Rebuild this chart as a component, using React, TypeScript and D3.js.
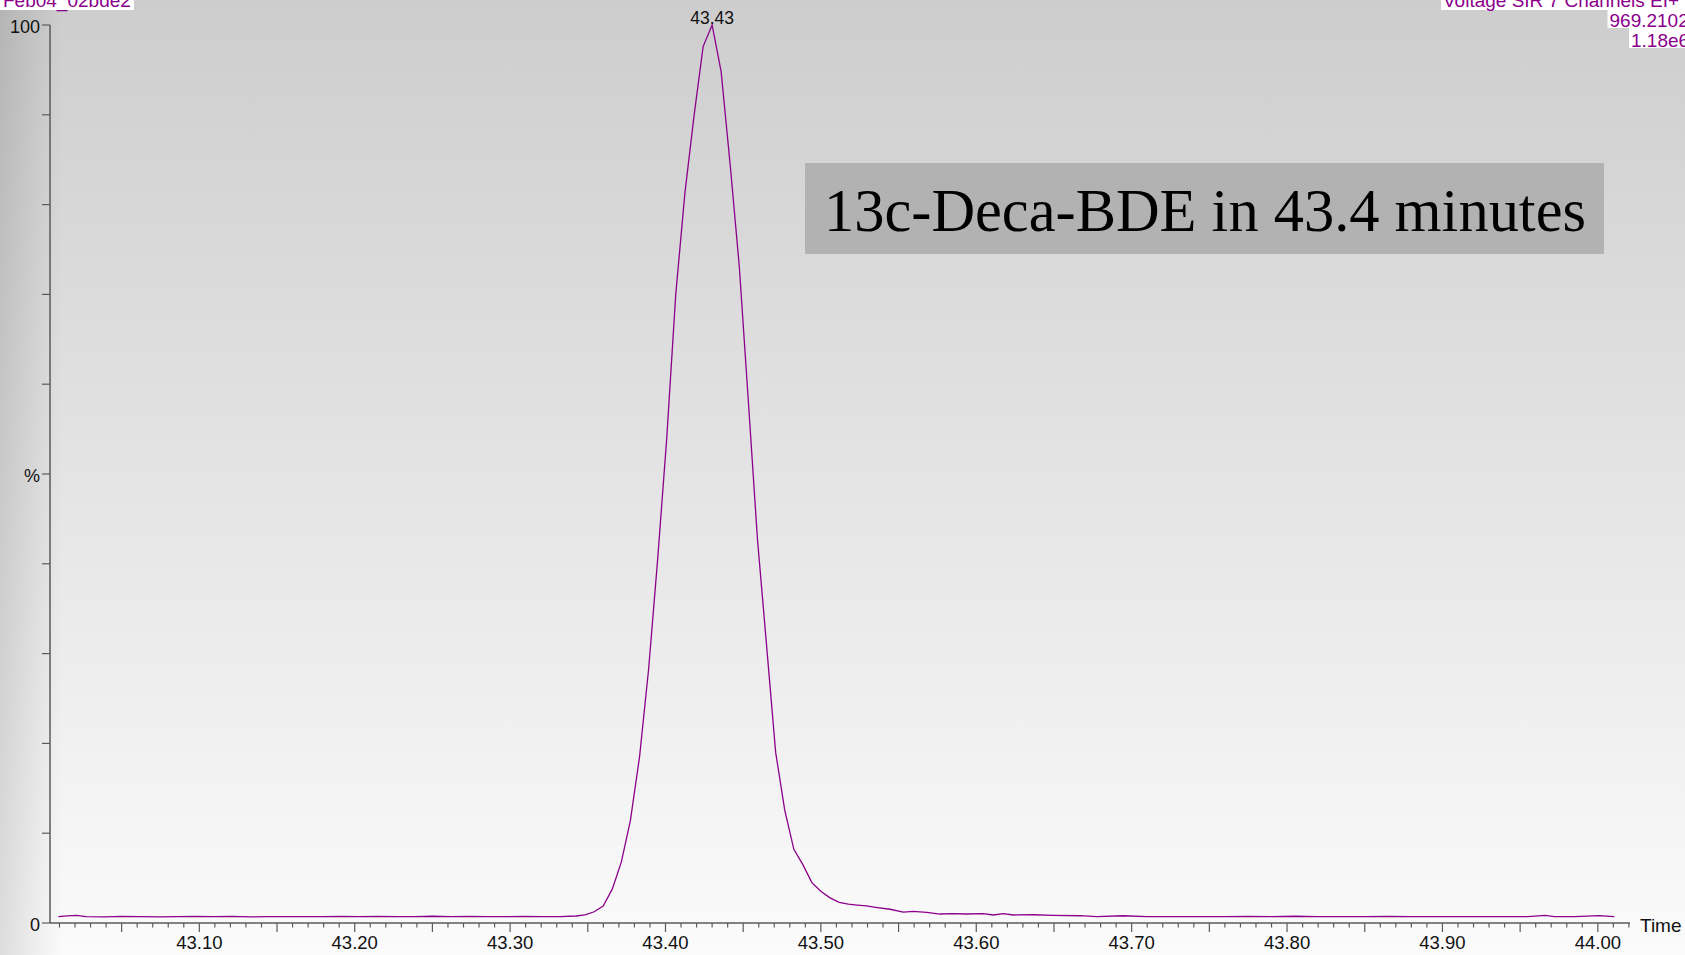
import React, { useEffect, useRef } from 'react';
import * as d3 from 'd3';

// retention time (min) and relative intensity (%)
const times = [
  43.0093, 43.0150, 43.0210, 43.0270, 43.0390, 43.0500, 43.0620, 43.0740, 43.0860, 43.0970,
  43.1090, 43.1210, 43.1330, 43.1440, 43.1560, 43.1680, 43.1800, 43.1910, 43.2030, 43.2150,
  43.2270, 43.2380, 43.2500, 43.2620, 43.2740, 43.2850, 43.2970, 43.3090, 43.3200, 43.3321,
  43.3424, 43.3482, 43.3541, 43.3599, 43.3658, 43.3716, 43.3774, 43.3833, 43.3891, 43.3950,
  43.4008, 43.4066, 43.4125, 43.4183, 43.4242, 43.4300, 43.4358, 43.4417, 43.4475, 43.4534,
  43.4592, 43.4650, 43.4709, 43.4767, 43.4826, 43.4884, 43.4942, 43.5001, 43.5059, 43.5118,
  43.5176, 43.5234, 43.5293, 43.5351, 43.5445, 43.5530, 43.5595, 43.5681, 43.5766, 43.5852,
  43.5938, 43.6045, 43.6109, 43.6174, 43.6238, 43.6367, 43.6495, 43.6667, 43.6775, 43.6946,
  43.7097, 43.7311, 43.7450, 43.7600, 43.7750, 43.7900, 43.8050, 43.8200, 43.8350, 43.8500,
  43.8650, 43.8800, 43.8950, 43.9100, 43.9250, 43.9400, 43.9550, 43.9660, 43.9720, 43.9850,
  44.0010, 44.0106,
];
const intensity = [
  0.72, 0.80, 0.85, 0.70, 0.68, 0.74, 0.70, 0.69, 0.72, 0.74,
  0.70, 0.73, 0.69, 0.70, 0.72, 0.70, 0.71, 0.73, 0.70, 0.74,
  0.70, 0.72, 0.75, 0.70, 0.73, 0.70, 0.71, 0.74, 0.72, 0.70,
  0.78, 0.90, 1.25, 1.9, 3.8, 6.8, 11.4, 18.5, 28.2, 40.6,
  54.0, 70.0, 81.3, 89.8, 97.6, 100, 94.8, 84.3, 73.1, 57.9,
  42.7, 31.0, 19.0, 12.6, 8.2, 6.5, 4.5, 3.5, 2.8, 2.3,
  2.1, 2.0, 1.9, 1.75, 1.53, 1.22, 1.30, 1.19, 1.0, 1.04,
  1.0, 1.04, 0.89, 1.04, 0.89, 0.92, 0.86, 0.81, 0.70, 0.81,
  0.70, 0.70, 0.72, 0.70, 0.74, 0.71, 0.75, 0.70, 0.72, 0.70,
  0.73, 0.70, 0.72, 0.70, 0.71, 0.72, 0.70, 0.85, 0.70, 0.72,
  0.82, 0.70,
];

const xLabels = ['43.10', '43.20', '43.30', '43.40', '43.50', '43.60', '43.70', '43.80', '43.90', '44.00'];
const yLabels = [{ v: 0, t: '0' }, { v: 50, t: '%' }, { v: 100, t: '100' }];
const peakLabel = '43.43';
const title = 'Feb04_02bde2';
const headerLines = ['Voltage SIR 7 Channels EI+', '969.2102', '1.18e6'];
const note = '13c-Deca-BDE in 43.4 minutes';

const W = 1685, H = 955;
const sans = '"Liberation Sans", Arial, sans-serif';
const purple = '#8b008b';

const App = () => {
  const ref = useRef<SVGSVGElement>(null);

  useEffect(() => {
    drawChart();
  }, []);

  const drawChart = () => {
    const svg = d3.select(ref.current);
    svg.selectAll('*').remove();

    const defs = svg.append('defs');
    const bg = defs.append('linearGradient').attr('id', 'bg').attr('x1', 0).attr('y1', 0).attr('x2', 0).attr('y2', 1);
    bg.append('stop').attr('offset', '0%').attr('stop-color', '#cdcdcd');
    bg.append('stop').attr('offset', '100%').attr('stop-color', '#fbfbfb');
    const side = defs.append('linearGradient').attr('id', 'side').attr('x1', 0).attr('y1', 0).attr('x2', 1).attr('y2', 0);
    side.append('stop').attr('offset', '0%').attr('stop-color', '#000').attr('stop-opacity', 0.12);
    side.append('stop').attr('offset', '100%').attr('stop-color', '#000').attr('stop-opacity', 0);

    svg.append('rect').attr('width', W).attr('height', H).attr('fill', 'url(#bg)');
    svg.append('rect').attr('width', 62).attr('height', H).attr('fill', 'url(#side)');

    const x = d3.scaleLinear().domain([43.0039, 44.0207]).range([50, 1630]);
    const y = d3.scaleLinear().domain([0, 100]).range([923, 25]);

    // axes
    const axisColor = '#5a5a5a';
    svg.append('line').attr('x1', 50).attr('x2', 50).attr('y1', y(100)).attr('y2', y(0))
      .attr('stroke', axisColor).attr('stroke-width', 1.5);
    svg.append('line').attr('x1', 50).attr('x2', 1630).attr('y1', y(0)).attr('y2', y(0))
      .attr('stroke', axisColor).attr('stroke-width', 1.5);

    // y ticks every 10 %
    svg.selectAll('.ytick').data(d3.range(0, 101, 10)).enter().append('line')
      .attr('x1', 42).attr('x2', 50).attr('y1', d => y(d)).attr('y2', d => y(d))
      .attr('stroke', axisColor).attr('stroke-width', 1.2);
    svg.selectAll('.ylab').data(yLabels).enter().append('text')
      .attr('x', 40).attr('y', d => y(d.v) + 8)
      .attr('text-anchor', 'end').attr('font-family', sans).attr('font-size', 18).attr('fill', '#111')
      .text(d => d.t);

    // x ticks: every 0.01 min, longer every 0.05
    const minor = d3.range(4301, 4403).map(d => d / 100);
    svg.selectAll('.xtick').data(minor).enter().append('line')
      .attr('x1', d => x(d)).attr('x2', d => x(d))
      .attr('y1', y(0)).attr('y2', d => (Math.round(d * 100) % 5 === 0 ? y(0) + 9 : y(0) + 4.5))
      .attr('stroke', axisColor).attr('stroke-width', 1.2);
    svg.selectAll('.xlab').data(xLabels).enter().append('text')
      .attr('x', d => x(+d)).attr('y', 949)
      .attr('text-anchor', 'middle').attr('font-family', sans).attr('font-size', 18.5).attr('fill', '#111')
      .text(d => d);
    svg.append('text').attr('x', 1640).attr('y', 932)
      .attr('font-family', sans).attr('font-size', 19).attr('fill', '#111').text('Time');

    // trace
    const pts = times.map((t, i) => [t, intensity[i]] as [number, number]);
    svg.append('path').datum(pts)
      .attr('d', d3.line<[number, number]>().x(d => x(d[0])).y(d => y(d[1])))
      .attr('fill', 'none').attr('stroke', purple).attr('stroke-width', 1.3);

    svg.append('text').attr('x', x(+peakLabel)).attr('y', 24)
      .attr('text-anchor', 'middle').attr('font-family', sans).attr('font-size', 17.5).attr('fill', '#111')
      .text(peakLabel);

    // header labels (clipped by page edge, as in the source)
    svg.append('rect').attr('x', 0).attr('y', 0).attr('width', 134).attr('height', 10).attr('fill', '#fff');
    svg.append('text').attr('x', 3).attr('y', 7).attr('font-family', sans).attr('font-size', 19)
      .attr('fill', purple).text(title);

    const hdr = [
      { x: 1443, y: 7, top: 0, bottom: 10 },
      { x: 1609.5, y: 26.5, top: 10, bottom: 28 },
      { x: 1631, y: 46.5, top: 28, bottom: 48 },
    ];
    headerLines.forEach((s, i) => {
      svg.append('rect').attr('x', hdr[i].x - 2).attr('y', hdr[i].top)
        .attr('width', W - hdr[i].x + 2).attr('height', hdr[i].bottom - hdr[i].top).attr('fill', '#fff');
      svg.append('text').attr('x', hdr[i].x).attr('y', hdr[i].y)
        .attr('font-family', sans).attr('font-size', 19).attr('fill', purple).text(s);
    });

    // annotation box
    svg.append('rect').attr('x', 805).attr('y', 163).attr('width', 799).attr('height', 91).attr('fill', '#b2b2b2');
    svg.append('text').attr('x', 824).attr('y', 231)
      .attr('font-family', '"Liberation Serif", "Times New Roman", serif').attr('font-size', 61).attr('fill', '#000')
      .attr('textLength', 762).attr('lengthAdjust', 'spacingAndGlyphs')
      .text(note);
  };

  return (
    <svg ref={ref} width={W} height={H}
      style={{ position: 'absolute', left: 0, top: 0, display: 'block' }} />
  );
};

export default App;
